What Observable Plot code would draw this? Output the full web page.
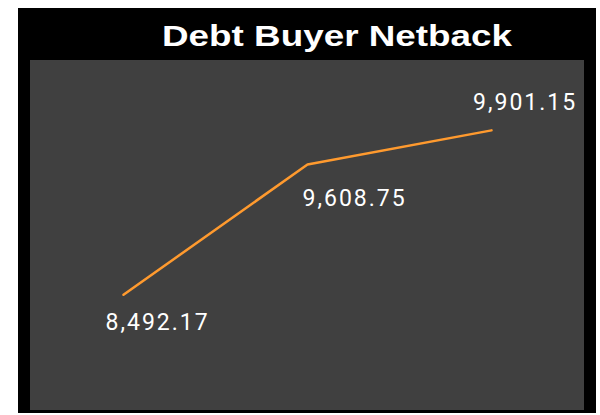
<!DOCTYPE html>
<html>
<head>
<meta charset="utf-8">
<script src="https://cdn.jsdelivr.net/npm/d3@7"></script>
<script src="https://cdn.jsdelivr.net/npm/@observablehq/plot@0.6"></script>
<style>
  html, body { margin: 0; padding: 0; background: #ffffff; }
  #frame { position: absolute; left: 18px; top: 8px; width: 578px; height: 405px; background: #000000; }
  #title { position: absolute; left: 144px; top: 10px; color: #ffffff; font-family: "Liberation Sans", Arial, sans-serif; font-weight: bold; font-size: 29px; line-height: 36px; white-space: nowrap; transform: scaleX(1.27); transform-origin: 0 0; }
  #chart { position: absolute; left: 12px; top: 52px; }
</style>
</head>
<body>
<div id="frame">
  <div id="title">Debt Buyer Netback</div>
  <div id="chart"></div>
</div>
<script>
const periods = ["P1", "P2", "P3"];
const netback = [8492.17, 9608.75, 9901.15];
const yDomain = [7500, 10500];

const data = periods.map((p, i) => ({period: p, value: netback[i]}));
const fmt = d3.format(",.2f");
const labelStyle = {
  text: d => fmt(d.value), fill: "#ffffff", fontSize: 23,
  fontFamily: "Roboto, sans-serif", textAnchor: "start"
};

const chart = Plot.plot({
  width: 554,
  height: 350,
  margin: 0,
  style: {background: "#404040", overflow: "visible"},
  x: {type: "point", domain: periods, padding: 0.5, axis: null},
  y: {domain: yDomain, axis: null},
  marks: [
    Plot.line(data, {x: "period", y: "value", stroke: "#ff9a2e", strokeWidth: 2.5}),
    Plot.text([data[0]], {x: "period", y: "value", ...labelStyle, dx: -18, dy: 28}),
    Plot.text([data[1]], {x: "period", y: "value", ...labelStyle, dx: -5, dy: 34.5}),
    Plot.text([data[2]], {x: "period", y: "value", ...labelStyle, dx: -18.5, dy: -27.5})
  ]
});
chart.style.letterSpacing = "2px";
document.getElementById("chart").appendChild(chart);
</script>
</body>
</html>
